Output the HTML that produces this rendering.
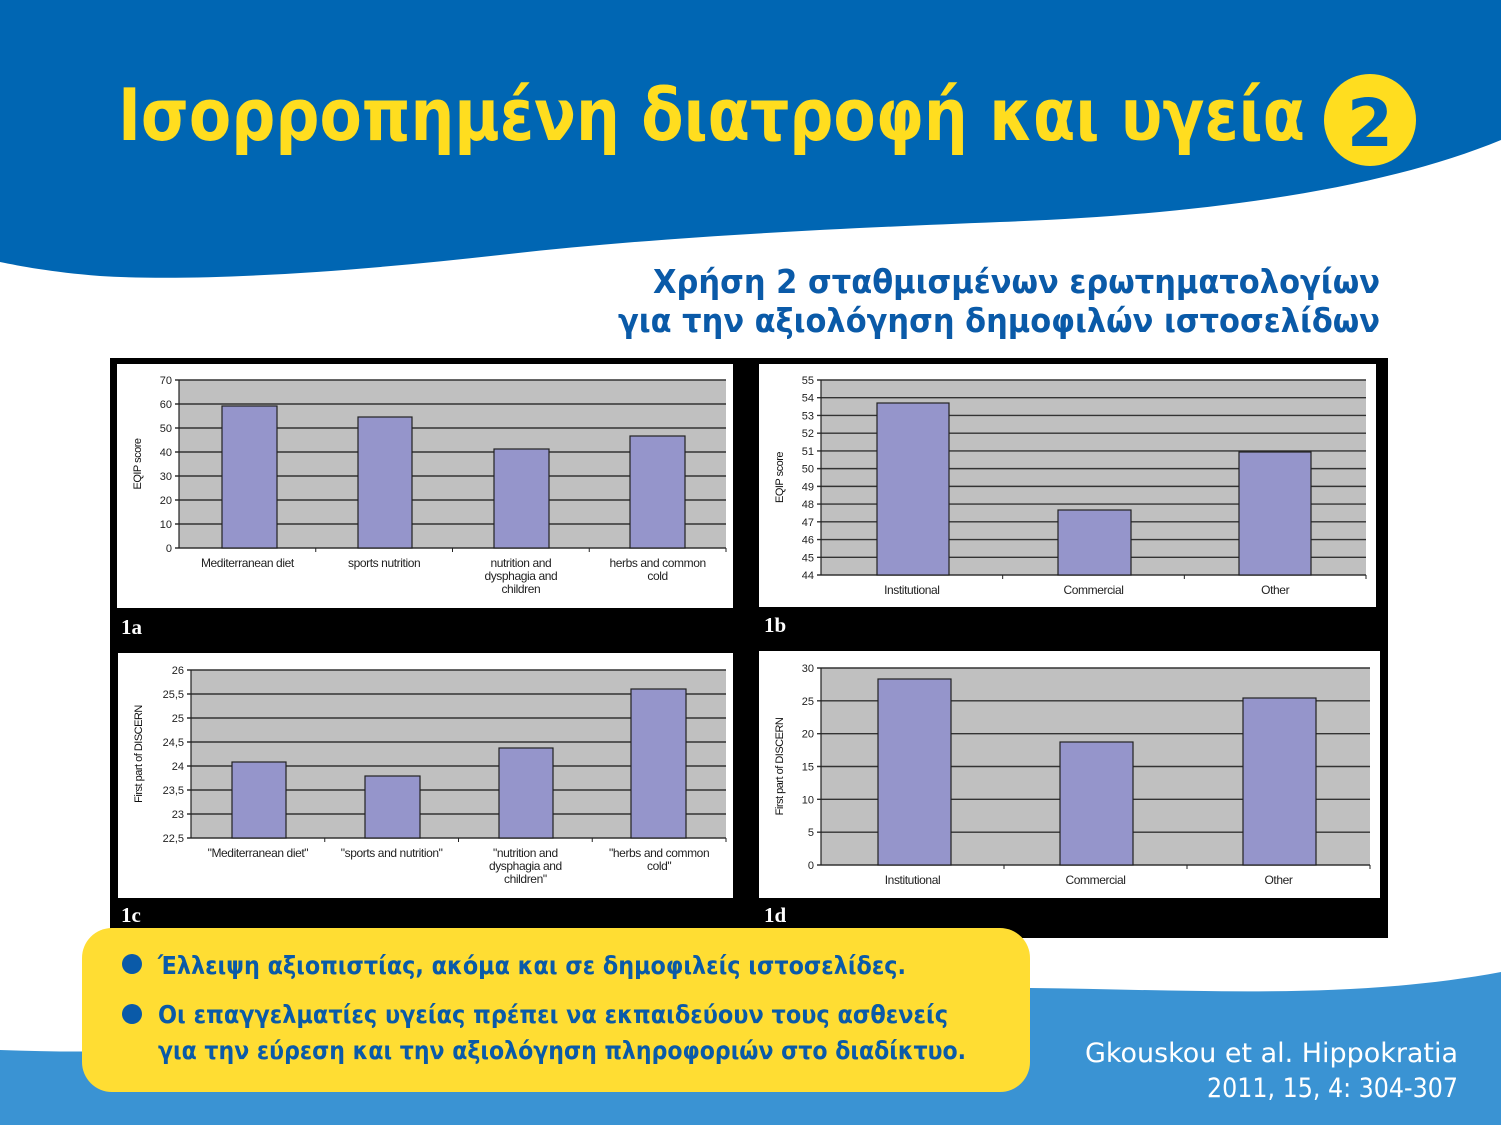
<!DOCTYPE html>
<html><head><meta charset="utf-8"><style>
html,body{margin:0;padding:0;background:#fff;}
svg{display:block;}
</style></head><body>
<svg id="s" width="1501" height="1125" viewBox="0 0 1501 1125" xmlns="http://www.w3.org/2000/svg" font-family="Liberation Sans, DejaVu Sans, sans-serif">
<rect width="1501" height="1125" fill="#fff"/>
<path d="M0,0 H1501 V140 C1380,190 1200,215 1000,222 C800,230 650,238 500,255 C350,272 200,282 100,276 C50,272 20,266 0,262 Z" fill="#0066b3"/>
<path d="M0,1050 C300,1062 700,1000 1030,988 C1200,990 1350,1000 1501,972 V1125 H0 Z" fill="#3a93d3"/>
<text x="118" y="140" font-size="72" font-weight="bold" fill="#ffdd1f" font-family="DejaVu Sans, sans-serif" textLength="1187" lengthAdjust="spacingAndGlyphs">Ισορροπημένη διατροφή και υγεία</text>
<circle cx="1370" cy="120" r="46" fill="#ffdd1f"/>
<text x="1370" y="146" font-size="66" font-weight="bold" fill="#0066b3" text-anchor="middle" font-family="DejaVu Sans, sans-serif">2</text>
<text x="653" y="293" font-size="33" font-weight="bold" fill="#0a5aa8" font-family="DejaVu Sans, sans-serif" textLength="727" lengthAdjust="spacingAndGlyphs">Χρήση 2 σταθμισμένων ερωτηματολογίων</text>
<text x="618" y="332" font-size="33" font-weight="bold" fill="#0a5aa8" font-family="DejaVu Sans, sans-serif" textLength="762" lengthAdjust="spacingAndGlyphs">για την αξιολόγηση δημοφιλών ιστοσελίδων</text>
<rect x="110" y="358" width="1278" height="580" fill="#000"/>
<g id="charts"></g>
<text x="121" y="634" font-size="21" font-weight="bold" fill="#fff" font-family="Liberation Serif, serif">1a</text>
<text x="764" y="632" font-size="21" font-weight="bold" fill="#fff" font-family="Liberation Serif, serif">1b</text>
<text x="121" y="922" font-size="21" font-weight="bold" fill="#fff" font-family="Liberation Serif, serif">1c</text>
<text x="764" y="922" font-size="21" font-weight="bold" fill="#fff" font-family="Liberation Serif, serif">1d</text>
<rect x="82" y="928" width="948" height="164" rx="30" fill="#ffdd33"/>
<circle cx="132" cy="964" r="10" fill="#0a5aa8"/>
<circle cx="132" cy="1014" r="10" fill="#0a5aa8"/>
<g font-size="25" font-weight="bold" fill="#0a5aa8" font-family="DejaVu Sans, sans-serif" lengthAdjust="spacingAndGlyphs">
<text x="158" y="974" textLength="748" lengthAdjust="spacingAndGlyphs">Έλλειψη αξιοπιστίας, ακόμα και σε δημοφιλείς ιστοσελίδες.</text>
<text x="158" y="1023" textLength="790" lengthAdjust="spacingAndGlyphs">Οι επαγγελματίες υγείας πρέπει να εκπαιδεύουν τους ασθενείς</text>
<text x="158" y="1059" textLength="808" lengthAdjust="spacingAndGlyphs">για την εύρεση και την αξιολόγηση πληροφοριών στο διαδίκτυο.</text>
</g>
<g font-size="27" fill="#fff" font-family="DejaVu Sans, sans-serif">
<text x="1085" y="1062" textLength="373" lengthAdjust="spacingAndGlyphs">Gkouskou et al. Hippokratia</text>
<text x="1207" y="1097" textLength="251" lengthAdjust="spacingAndGlyphs">2011, 15, 4: 304-307</text>
</g>
</svg>
<script>
var NS="http://www.w3.org/2000/svg",G=document.getElementById("charts");
function el(t,a,txt){var e=document.createElementNS(NS,t);for(var k in a)e.setAttribute(k,a[k]);if(txt!==undefined)e.textContent=txt;G.appendChild(e);return e;}
function chart(c){
 el("rect",{x:c.wx,y:c.wy,width:c.ww,height:c.wh,fill:"#fff"});
 el("rect",{x:c.px,y:c.py,width:c.pw,height:c.ph,fill:"#c0c0c0"});
 var n=c.ticks.length;
 for(var i=0;i<n;i++){var y=c.py+c.ph*i/(n-1);
  el("line",{x1:c.px-4,x2:c.px+c.pw,y1:y,y2:y,stroke:"#333","stroke-width":1.4});
  el("text",{x:c.px-7,y:y+4,"font-size":11,"text-anchor":"end",fill:"#222"},c.ticks[i]);}
 el("line",{x1:c.px,x2:c.px,y1:c.py,y2:c.py+c.ph,stroke:"#222","stroke-width":1.2});
 var m=c.bars.length,gw=c.pw/m;
 for(var j=0;j<m;j++){var b=c.bars[j];
  el("rect",{x:b[0],y:b[2],width:b[1]-b[0],height:c.py+c.ph-b[2],fill:"#9595cb",stroke:"#222","stroke-width":1.2});
  el("line",{x1:c.px+gw*(j+1),x2:c.px+gw*(j+1),y1:c.py+c.ph,y2:c.py+c.ph+4,stroke:"#222"});
  var cx=c.px+gw*(j+0.5),L=c.labels[j];
  for(var k=0;k<L.length;k++)el("text",{x:cx,y:c.py+c.ph+19+k*13,"font-size":12,"text-anchor":"middle",fill:"#222","letter-spacing":"-0.4"},L[k]);}
 var ly=c.py+c.ph/2;
 el("text",{x:0,y:0,"font-size":11,"text-anchor":"middle",fill:"#111",transform:"translate("+c.yx+","+ly+") rotate(-90)","letter-spacing":"-0.5"},c.ylab);
}
chart({wx:117,wy:364,ww:616,wh:244,px:179,py:380,pw:547,ph:168,ticks:["70","60","50","40","30","20","10","0"],
 bars:[[222,277,406],[358,412,417],[494,549,449],[630,685,436]],
 labels:[["Mediterranean diet"],["sports nutrition"],["nutrition and","dysphagia and","children"],["herbs and common","cold"]],ylab:"EQIP score",yx:141});
chart({wx:759,wy:364,ww:617,wh:243,px:821,py:380,pw:545,ph:195,ticks:["55","54","53","52","51","50","49","48","47","46","45","44"],
 bars:[[877,949,403],[1058,1131,510],[1239,1311,452]],
 labels:[["Institutional"],["Commercial"],["Other"]],ylab:"EQIP score",yx:783});
chart({wx:118,wy:653,ww:615,wh:245,px:191,py:670,pw:535,ph:168,ticks:["26","25,5","25","24,5","24","23,5","23","22,5"],
 bars:[[232,286,762],[365,420,776],[499,553,748],[631,686,689]],
 labels:[["\"Mediterranean diet\""],["\"sports and nutrition\""],["\"nutrition and","dysphagia and","children\""],["\"herbs and common","cold\""]],ylab:"First part of DISCERN",yx:142});
chart({wx:759,wy:651,ww:621,wh:247,px:821,py:668,pw:549,ph:197,ticks:["30","25","20","15","10","5","0"],
 bars:[[878,951,679],[1060,1133,742],[1243,1316,698]],
 labels:[["Institutional"],["Commercial"],["Other"]],ylab:"First part of DISCERN",yx:783});
</script>
</body></html>
